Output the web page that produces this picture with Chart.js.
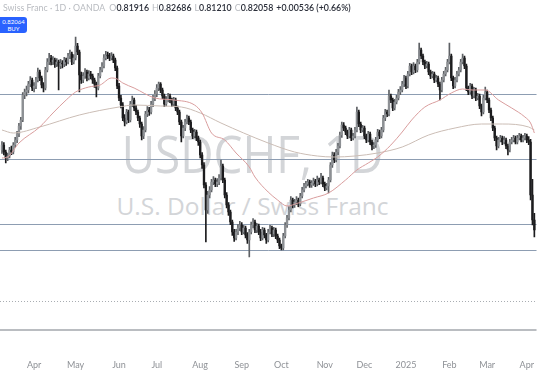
<!DOCTYPE html>
<html><head><meta charset="utf-8">
<script src="https://cdn.jsdelivr.net/npm/chart.js@4.4.1/dist/chart.umd.min.js"></script>
<style>
html,body{margin:0;padding:0;background:#fff;width:540px;height:370px;overflow:hidden;}
#wrap{position:relative;width:540px;height:370px;}
#wm{position:absolute;left:0;top:0;width:540px;height:370px;z-index:0;font-family:"Open Sans",sans-serif;color:#d3d5d8;}
#wm1{position:absolute;left:0;width:505px;top:118px;text-align:center;font-size:51px;line-height:70px;transform:scaleX(0.9);}
#wm2{position:absolute;left:0;width:505px;top:189px;text-align:center;font-size:24.5px;line-height:34px;}
canvas{position:absolute;left:0;top:0;z-index:1;}
#hdr{position:absolute;left:3px;top:2px;z-index:2;font-family:Lato,"Open Sans",sans-serif;font-size:8.8px;white-space:nowrap;color:#b8bbc0;}
#hdr b{font-weight:600;color:#2a2e39;margin-right:3px;}
#buy{position:absolute;left:0;top:17px;width:27px;height:16px;z-index:2;background:#2962ff;border-radius:0 3px 3px 0;color:#fff;font-family:Lato,sans-serif;font-size:6px;line-height:7px;text-align:center;padding-top:1px;box-sizing:border-box;}
</style></head>
<body><div id="wrap">
<div id="wm"><div id="wm1">USDCHF, 1D</div><div id="wm2">U.S. Dollar / Swiss Franc</div></div>
<canvas id="c" width="540" height="370"></canvas>
<div id="hdr">Swiss Franc · 1D · OANDA &nbsp;O<b>0.81916</b>H<b>0.82686</b>L<b>0.81210</b>C<b>0.82058</b><b>+0.00536 (+0.66%)</b></div>
<div id="buy">0.82064<br>BUY</div>
</div>
<script>
const monthIdx = [17,39,62,82,105,127,148,171,192,214,237,257,278];
const monthLabels = ["Apr","May","Jun","Jul","Aug","Sep","Oct","Nov","Dec","2025","Feb","Mar","Apr"];

const opens = [0.8950,
0.8965,0.8944,0.8926,0.8932,0.8950,0.8944,0.8965,0.8980,0.8998,0.9022,
0.9040,0.9115,0.9124,0.9130,0.9148,0.9160,0.9136,0.9142,0.9160,0.9184,
0.9166,0.9145,0.9136,0.9190,0.9214,0.9226,0.9214,0.9220,0.9208,0.9214,
0.9202,0.9211,0.9208,0.9220,0.9214,0.9232,0.9238,0.9214,0.9226,0.9262,
0.9244,0.9175,0.9160,0.9172,0.9184,0.9166,0.9178,0.9172,0.9160,0.9148,
0.9136,0.9172,0.9190,0.9202,0.9226,0.9235,0.9232,0.9226,0.9232,0.9220,
0.9196,0.9142,0.9106,0.9085,0.9046,0.9034,0.9064,0.9040,0.9088,0.9100,
0.9076,0.9064,0.9046,0.9028,0.8992,0.9010,0.9058,0.9070,0.9064,0.9088,
0.9106,0.9118,0.9136,0.9148,0.9130,0.9112,0.9088,0.9100,0.9112,0.9100,
0.9088,0.9100,0.9076,0.9064,0.9034,0.8992,0.9016,0.9034,0.9046,0.9034,
0.9010,0.8992,0.9004,0.8986,0.8974,0.8935,0.8905,0.8845,0.8770,0.8815,
0.8830,0.8854,0.8860,0.8848,0.8854,0.8866,0.8902,0.8860,0.8815,0.8785,
0.8764,0.8734,0.8704,0.8686,0.8704,0.8716,0.8725,0.8704,0.8716,0.8695,
0.8680,0.8704,0.8725,0.8734,0.8710,0.8722,0.8704,0.8686,0.8710,0.8695,
0.8680,0.8704,0.8716,0.8698,0.8710,0.8692,0.8680,0.8662,0.8656,0.8692,
0.8725,0.8746,0.8770,0.8800,0.8785,0.8794,0.8800,0.8788,0.8812,0.8830,
0.8842,0.8848,0.8854,0.8845,0.8851,0.8857,0.8848,0.8860,0.8854,0.8866,
0.8848,0.8836,0.8842,0.8860,0.8905,0.8935,0.8920,0.8944,0.8962,0.8995,
0.9025,0.9016,0.9004,0.8992,0.9010,0.8986,0.8992,0.9010,0.9064,0.9028,
0.9010,0.9016,0.8992,0.8980,0.8998,0.8974,0.8962,0.8965,0.8980,0.9004,
0.8992,0.9010,0.9046,0.9064,0.9058,0.9112,0.9100,0.9076,0.9094,0.9106,
0.9124,0.9130,0.9148,0.9166,0.9142,0.9178,0.9202,0.9184,0.9202,0.9190,
0.9214,0.9250,0.9232,0.9214,0.9202,0.9208,0.9184,0.9172,0.9178,0.9160,
0.9166,0.9148,0.9130,0.9160,0.9178,0.9190,0.9214,0.9232,0.9166,0.9142,
0.9160,0.9178,0.9190,0.9214,0.9226,0.9202,0.9136,0.9124,0.9142,0.9112,
0.9130,0.9106,0.9112,0.9082,0.9064,0.9106,0.9124,0.9100,0.9070,0.9046,
0.9016,0.8986,0.8962,0.8980,0.8986,0.8974,0.8980,0.8962,0.8950,0.8974,
0.8980,0.8986,0.8974,0.8986,0.8992,0.8980,0.8986,0.8992,0.8980,0.8974,
0.8815,0.8740];

const highs = [
0.8975,0.8972,0.8950,0.8941,0.8958,0.8962,0.8972,0.8988,0.9006,0.9030,
0.9048,0.9122,0.9133,0.9142,0.9156,0.9170,0.9166,0.9152,0.9168,0.9196,
0.9190,0.9172,0.9152,0.9198,0.9224,0.9240,0.9234,0.9230,0.9226,0.9224,
0.9220,0.9222,0.9218,0.9228,0.9226,0.9240,0.9250,0.9244,0.9236,0.9289,
0.9270,0.9250,0.9184,0.9182,0.9194,0.9190,0.9188,0.9186,0.9178,0.9166,
0.9154,0.9180,0.9198,0.9212,0.9236,0.9246,0.9244,0.9240,0.9242,0.9238,
0.9226,0.9202,0.9150,0.9114,0.9092,0.9056,0.9072,0.9070,0.9096,0.9112,
0.9106,0.9084,0.9070,0.9052,0.9034,0.9020,0.9066,0.9080,0.9078,0.9096,
0.9114,0.9128,0.9146,0.9154,0.9152,0.9136,0.9118,0.9110,0.9120,0.9118,
0.9106,0.9108,0.9106,0.9082,0.9070,0.9040,0.9024,0.9042,0.9055,0.9052,
0.9040,0.9016,0.9012,0.9010,0.8992,0.8980,0.8942,0.8912,0.8852,0.8826,
0.8840,0.8862,0.8870,0.8866,0.8864,0.8876,0.8920,0.8908,0.8866,0.8822,
0.8792,0.8770,0.8740,0.8712,0.8712,0.8726,0.8736,0.8732,0.8724,0.8722,
0.8702,0.8712,0.8734,0.8744,0.8740,0.8730,0.8728,0.8712,0.8718,0.8716,
0.8700,0.8712,0.8724,0.8722,0.8718,0.8716,0.8698,0.8686,0.8668,0.8700,
0.8732,0.8754,0.8780,0.8810,0.8806,0.8802,0.8810,0.8806,0.8820,0.8838,
0.8850,0.8856,0.8862,0.8860,0.8858,0.8866,0.8862,0.8872,0.8866,0.8880,
0.8872,0.8854,0.8850,0.8868,0.8912,0.8944,0.8942,0.8952,0.8970,0.9004,
0.9034,0.9032,0.9022,0.9010,0.9018,0.9016,0.9000,0.9018,0.9079,0.9070,
0.9034,0.9024,0.9022,0.8998,0.9006,0.9004,0.8980,0.8972,0.8988,0.9012,
0.9010,0.9018,0.9054,0.9072,0.9070,0.9130,0.9118,0.9106,0.9102,0.9114,
0.9132,0.9140,0.9156,0.9174,0.9172,0.9186,0.9210,0.9208,0.9212,0.9208,
0.9222,0.9271,0.9256,0.9238,0.9220,0.9216,0.9214,0.9190,0.9186,0.9184,
0.9174,0.9172,0.9154,0.9168,0.9186,0.9198,0.9222,0.9271,0.9238,0.9172,
0.9168,0.9186,0.9198,0.9222,0.9238,0.9232,0.9208,0.9142,0.9150,0.9148,
0.9138,0.9136,0.9120,0.9118,0.9088,0.9114,0.9139,0.9130,0.9106,0.9076,
0.9052,0.9022,0.8992,0.8988,0.8994,0.8992,0.8990,0.8986,0.8968,0.8982,
0.8988,0.8994,0.8992,0.8994,0.9000,0.8998,0.8994,0.9000,0.8998,0.8990,
0.8982,0.8862,0.8760];

const lows = [
0.8940,0.8935,0.8911,0.8918,0.8926,0.8936,0.8938,0.8958,0.8972,0.8990,
0.9012,0.9035,0.9104,0.9112,0.9121,0.9140,0.9128,0.9124,0.9134,0.9154,
0.9158,0.9136,0.9124,0.9130,0.9184,0.9206,0.9205,0.9206,0.9198,0.9200,
0.9130,0.9194,0.9196,0.9200,0.9204,0.9208,0.9224,0.9206,0.9208,0.9220,
0.9236,0.9124,0.9150,0.9152,0.9165,0.9157,0.9160,0.9163,0.9150,0.9138,
0.9109,0.9130,0.9166,0.9184,0.9196,0.9220,0.9224,0.9218,0.9220,0.9212,
0.9188,0.9134,0.9098,0.9076,0.9038,0.9022,0.9028,0.9032,0.9034,0.9080,
0.9068,0.9056,0.9038,0.9018,0.8980,0.8984,0.9004,0.9050,0.9054,0.9058,
0.9080,0.9098,0.9110,0.9128,0.9122,0.9104,0.9080,0.9082,0.9094,0.9092,
0.9080,0.9082,0.9068,0.9056,0.9026,0.8974,0.8986,0.9008,0.9028,0.9026,
0.9002,0.8984,0.8986,0.8978,0.8964,0.8926,0.8895,0.8836,0.8674,0.8760,
0.8806,0.8824,0.8846,0.8840,0.8840,0.8846,0.8860,0.8852,0.8806,0.8776,
0.8754,0.8726,0.8694,0.8676,0.8680,0.8696,0.8708,0.8696,0.8698,0.8686,
0.8670,0.8629,0.8698,0.8716,0.8702,0.8702,0.8696,0.8678,0.8680,0.8686,
0.8670,0.8674,0.8698,0.8690,0.8690,0.8684,0.8672,0.8654,0.8650,0.8650,
0.8686,0.8718,0.8740,0.8764,0.8776,0.8778,0.8786,0.8780,0.8782,0.8806,
0.8824,0.8836,0.8842,0.8838,0.8838,0.8844,0.8840,0.8842,0.8846,0.8848,
0.8840,0.8828,0.8830,0.8821,0.8854,0.8898,0.8912,0.8914,0.8936,0.8956,
0.8988,0.9008,0.8996,0.8984,0.8986,0.8978,0.8980,0.8986,0.9004,0.9020,
0.9002,0.9004,0.8984,0.8972,0.8974,0.8966,0.8950,0.8954,0.8958,0.8974,
0.8984,0.8986,0.9004,0.9038,0.9050,0.9052,0.9092,0.9068,0.9070,0.9088,
0.9100,0.9116,0.9124,0.9140,0.9134,0.9136,0.9172,0.9176,0.9178,0.9182,
0.9184,0.9208,0.9224,0.9206,0.9194,0.9196,0.9176,0.9164,0.9166,0.9152,
0.9154,0.9140,0.9100,0.9124,0.9154,0.9172,0.9184,0.9208,0.9158,0.9134,
0.9136,0.9154,0.9172,0.9184,0.9208,0.9194,0.9128,0.9116,0.9118,0.9104,
0.9106,0.9098,0.9100,0.9074,0.9052,0.9058,0.9100,0.9092,0.9062,0.9038,
0.9008,0.8978,0.8950,0.8956,0.8974,0.8966,0.8968,0.8954,0.8935,0.8944,
0.8968,0.8974,0.8968,0.8968,0.8980,0.8974,0.8974,0.8980,0.8972,0.8966,
0.8800,0.8725,0.8689];

const closes = [
0.8965,0.8944,0.8926,0.8932,0.8950,0.8944,0.8965,0.8980,0.8998,0.9022,
0.9040,0.9115,0.9124,0.9130,0.9148,0.9160,0.9136,0.9142,0.9160,0.9184,
0.9166,0.9145,0.9136,0.9190,0.9214,0.9226,0.9214,0.9220,0.9208,0.9214,
0.9202,0.9211,0.9208,0.9220,0.9214,0.9232,0.9238,0.9214,0.9226,0.9262,
0.9244,0.9175,0.9160,0.9172,0.9184,0.9166,0.9178,0.9172,0.9160,0.9148,
0.9136,0.9172,0.9190,0.9202,0.9226,0.9235,0.9232,0.9226,0.9232,0.9220,
0.9196,0.9142,0.9106,0.9085,0.9046,0.9034,0.9064,0.9040,0.9088,0.9100,
0.9076,0.9064,0.9046,0.9028,0.8992,0.9010,0.9058,0.9070,0.9064,0.9088,
0.9106,0.9118,0.9136,0.9148,0.9130,0.9112,0.9088,0.9100,0.9112,0.9100,
0.9088,0.9100,0.9076,0.9064,0.9034,0.8992,0.9016,0.9034,0.9046,0.9034,
0.9010,0.8992,0.9004,0.8986,0.8974,0.8935,0.8905,0.8845,0.8770,0.8815,
0.8830,0.8854,0.8860,0.8848,0.8854,0.8866,0.8902,0.8860,0.8815,0.8785,
0.8764,0.8734,0.8704,0.8686,0.8704,0.8716,0.8725,0.8704,0.8716,0.8695,
0.8680,0.8704,0.8725,0.8734,0.8710,0.8722,0.8704,0.8686,0.8710,0.8695,
0.8680,0.8704,0.8716,0.8698,0.8710,0.8692,0.8680,0.8662,0.8656,0.8692,
0.8725,0.8746,0.8770,0.8800,0.8785,0.8794,0.8800,0.8788,0.8812,0.8830,
0.8842,0.8848,0.8854,0.8845,0.8851,0.8857,0.8848,0.8860,0.8854,0.8866,
0.8848,0.8836,0.8842,0.8860,0.8905,0.8935,0.8920,0.8944,0.8962,0.8995,
0.9025,0.9016,0.9004,0.8992,0.9010,0.8986,0.8992,0.9010,0.9064,0.9028,
0.9010,0.9016,0.8992,0.8980,0.8998,0.8974,0.8962,0.8965,0.8980,0.9004,
0.8992,0.9010,0.9046,0.9064,0.9058,0.9112,0.9100,0.9076,0.9094,0.9106,
0.9124,0.9130,0.9148,0.9166,0.9142,0.9178,0.9202,0.9184,0.9202,0.9190,
0.9214,0.9250,0.9232,0.9214,0.9202,0.9208,0.9184,0.9172,0.9178,0.9160,
0.9166,0.9148,0.9130,0.9160,0.9178,0.9190,0.9214,0.9232,0.9166,0.9142,
0.9160,0.9178,0.9190,0.9214,0.9226,0.9202,0.9136,0.9124,0.9142,0.9112,
0.9130,0.9106,0.9112,0.9082,0.9064,0.9106,0.9124,0.9100,0.9070,0.9046,
0.9016,0.8986,0.8962,0.8980,0.8986,0.8974,0.8980,0.8962,0.8950,0.8974,
0.8980,0.8986,0.8974,0.8986,0.8992,0.8980,0.8986,0.8992,0.8980,0.8974,
0.8815,0.8740,0.8710];

const ma50Idx = [0,3,9,20,27,34,39,46,52,58,61,64,70,81,91,102,106,111,118,124,131,134,141,146,151,157,165,173,182,188,194,199,206,212,217,224,232,238,244,249,256,263,270,277,280,282];
const ma50Val = [0.8926,0.8929,0.8971,0.9019,0.9061,0.9100,0.9124,0.9139,0.9145,0.9166,0.9163,0.9151,0.9136,0.9106,0.9100,0.9085,0.9061,0.9001,0.8980,0.8941,0.8899,0.8869,0.8824,0.8800,0.8782,0.8791,0.8806,0.8821,0.8860,0.8890,0.8911,0.8929,0.8965,0.9004,0.9040,0.9079,0.9100,0.9121,0.9133,0.9130,0.9130,0.9100,0.9076,0.9049,0.9031,0.9001];
const ma200Idx = [0,6,20,41,62,70,84,95,105,116,128,141,155,167,176,187,199,212,226,240,254,265,279,282];
const ma200Val = [0.9010,0.9001,0.9019,0.9055,0.9079,0.9085,0.9082,0.9079,0.9061,0.9031,0.9001,0.8971,0.8944,0.8932,0.8929,0.8932,0.8941,0.8959,0.8995,0.9016,0.9028,0.9028,0.9019,0.9010];

const levels = [0.9118, 0.8923, 0.8728, 0.8650];
const dottedLevel = 0.8497;
const baseLevel = 0.8410;

const UP = '#8d9094', DOWN = '#1c1c1e', UPW = '#5d6064';
const isUp = i => closes[i] >= opens[i];

const levelPlugin = {
  id: 'levels',
  beforeDatasetsDraw(chart) {
    const {ctx, chartArea, scales} = chart;
    ctx.save();
    ctx.lineWidth = 1;
    ctx.strokeStyle = '#8d9db2';
    levels.forEach(v => {
      const y = Math.round(scales.y.getPixelForValue(v)) + 0.5;
      ctx.beginPath(); ctx.moveTo(chartArea.left, y); ctx.lineTo(chartArea.right, y); ctx.stroke();
    });
    ctx.strokeStyle = '#a9adb2';
    ctx.setLineDash([1, 2]);
    let y = Math.round(scales.y.getPixelForValue(dottedLevel)) + 0.5;
    ctx.beginPath(); ctx.moveTo(chartArea.left, y); ctx.lineTo(chartArea.right, y); ctx.stroke();
    ctx.setLineDash([]);
    ctx.strokeStyle = '#a3a7ad';
    ctx.lineWidth = 1.5;
    y = scales.y.getPixelForValue(baseLevel);
    ctx.beginPath(); ctx.moveTo(chartArea.left, y); ctx.lineTo(chartArea.right, y); ctx.stroke();
    ctx.restore();
  }
};

const idx = closes.map((_, i) => i);
new Chart(document.getElementById('c'), {
  type: 'bar',
  data: {
    datasets: [
      { type: 'line', label: 'MA50', data: ma50Idx.map((x, i) => ({x, y: ma50Val[i]})), borderColor: '#d99d9d', borderWidth: 1, pointRadius: 0, cubicInterpolationMode: 'monotone', order: 0 },
      { type: 'line', label: 'MA200', data: ma200Idx.map((x, i) => ({x, y: ma200Val[i]})), borderColor: '#cbbdb5', borderWidth: 1, pointRadius: 0, cubicInterpolationMode: 'monotone', order: 0 },
      { label: 'wick', data: idx.map(i => ({x: i, y: [lows[i], highs[i]]})), barThickness: 1, grouped: false, borderWidth: 0,
        backgroundColor: c => isUp(c.dataIndex) ? UPW : DOWN, order: 2 },
      { label: 'body', data: idx.map(i => ({x: i, y: [opens[i], closes[i]]})), barThickness: 1.7, grouped: false, borderWidth: 0, minBarLength: 1,
        backgroundColor: c => isUp(c.dataIndex) ? UP : DOWN, order: 1 }
    ]
  },
  options: {
    responsive: false, animation: false, devicePixelRatio: 1,
    layout: { padding: 0 },
    plugins: { legend: { display: false }, tooltip: { enabled: false } },
    scales: {
      x: {
        type: 'linear', offset: false, min: -1.05, max: 283.15,
        grid: { display: false, drawTicks: false }, border: { display: false },
        afterBuildTicks: axis => { axis.ticks = monthIdx.map(v => ({ value: v })); },
        afterFit: axis => { axis.height = 16; },
        ticks: { autoSkip: false, maxRotation: 0, padding: 6, color: '#8e9196', font: { family: 'Lato, sans-serif', size: 9 },
          callback: (v, i) => monthLabels[i] }
      },
      y: { display: false, min: 0.8338, max: 0.9400 }
    }
  },
  plugins: [levelPlugin]
});
</script>
</body></html>
